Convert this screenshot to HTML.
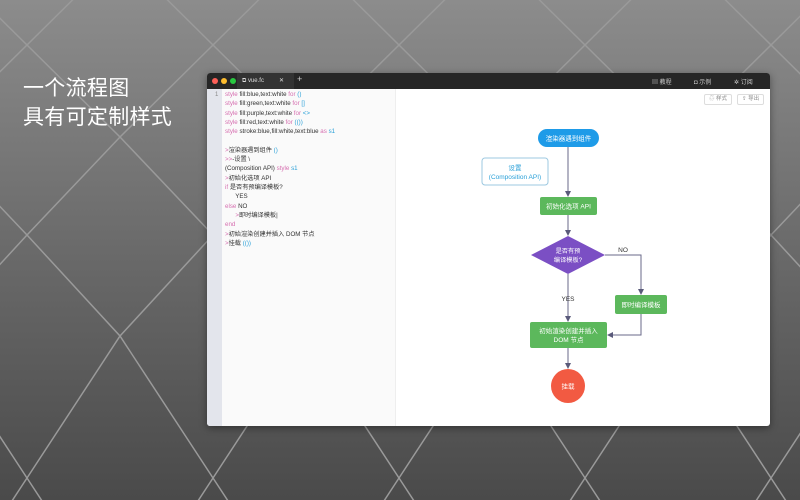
<!DOCTYPE html>
<html><head><meta charset="utf-8"><style>
html,body{margin:0;width:800px;height:500px;overflow:hidden}
body{position:relative;font-family:"Liberation Sans","Noto Sans CJK SC",sans-serif;background:linear-gradient(#8c8c8c,#6a6a6a 50%,#4a4a4a);}
#bg{position:absolute;left:0;top:0}
.h{position:absolute;left:23px;color:#fff;font-size:21px;letter-spacing:0.3px;font-family:"Liberation Sans","Noto Sans CJK SC",sans-serif;}
.win{position:absolute;left:207px;top:73px;width:563px;height:353px;background:#fff;border-radius:3px;overflow:hidden;box-shadow:0 2px 8px rgba(0,0,0,.4)}
.tb{position:absolute;left:0;top:0;width:563px;height:16px;background:#262626}
.dot{position:absolute;top:5px;width:6px;height:6px;border-radius:50%}
.tab{position:absolute;left:30px;top:0;width:52px;height:16px;background:#333;color:#ddd;font-size:6px;line-height:16px;padding-left:5px}
.gut{position:absolute;left:0;top:16px;width:15px;height:337px;background:#e3e5ec}
.code{position:absolute;left:15px;top:16px;width:173px;height:337px;background:#fafafa;border-right:1px solid #eee}
.code div{position:absolute;left:3px;font-size:6.2px;line-height:8px;color:#333;white-space:pre}
.k{color:#d66fb0}.b{color:#2aa0d8}
.tt{position:absolute;color:#ccc;font-size:6px;top:4px}
.btn{position:absolute;top:21px;height:9px;border:1px solid #ddd;font-size:5.5px;color:#888;line-height:9px;padding:0 4px;border-radius:2px}
</style></head><body>
<svg id="bg" width="800" height="500"></svg>
<div class="h" style="top:72px">一个流程图</div>
<div class="h" style="top:101px">具有可定制样式</div>
<div class="win">
<div class="tb">
<div class="dot" style="left:5px;background:#fc5f57"></div>
<div class="dot" style="left:14px;background:#fdbc2e"></div>
<div class="dot" style="left:23px;background:#28c840"></div>
<div class="tab">⧉ vue.fc<span style="position:absolute;left:42px">✕</span></div>
<div class="tt" style="left:90px;font-size:9px;top:1px">+</div>
<div class="tt" style="left:445px">▤ 教程</div>
<div class="tt" style="left:487px">◘ 示例</div>
<div class="tt" style="left:527px">✲ 订阅</div>
</div>
<div class="btn" style="left:497px">♲ 样式</div>
<div class="btn" style="left:530px">⇪ 导出</div>
<div class="gut"><div style="position:absolute;left:8px;top:3px;font-size:6px;color:#888">1</div></div>
<div class="code">
<div style="top:2px"><span class="k">style</span> fill:blue,text:white <span class="k">for</span> <span class="b">()</span></div>
<div style="top:11.3px"><span class="k">style</span> fill:green,text:white <span class="k">for</span> <span class="b">[]</span></div>
<div style="top:20.6px"><span class="k">style</span> fill:purple,text:white <span class="k">for</span> <span class="b">&lt;&gt;</span></div>
<div style="top:29.9px"><span class="k">style</span> fill:red,text:white <span class="k">for</span> <span class="b">(())</span></div>
<div style="top:39.2px"><span class="k">style</span> stroke:blue,fill:white,text:blue <span class="k">as</span> <span class="b">s1</span></div>
<div style="top:57.8px"><span class="k">&gt;</span>渲染器遇到组件 <span class="b">()</span></div>
<div style="top:67.1px"><span class="k">&gt;&gt;</span>-设置 \</div>
<div style="top:76.4px">(Composition API) <span class="k">style</span> <span class="b">s1</span></div>
<div style="top:85.7px"><span class="k">&gt;</span>初始化选项 API</div>
<div style="top:95px"><span class="k">if</span> 是否有预编译模板?</div>
<div style="top:104.3px">      YES</div>
<div style="top:113.6px"><span class="k">else</span> NO</div>
<div style="top:122.9px">      <span class="k">&gt;</span>即时编译模板|</div>
<div style="top:132.2px"><span class="k">end</span></div>
<div style="top:141.5px"><span class="k">&gt;</span>初始渲染创建并插入 DOM 节点</div>
<div style="top:150.8px"><span class="k">&gt;</span>挂载 <span class="b">(())</span></div>
</div>
</div>
<svg width="800" height="500" style="position:absolute;left:0;top:0" font-family="Liberation Sans,Noto Sans CJK SC,sans-serif">
<defs><marker id="a" markerWidth="6" markerHeight="6" refX="5" refY="3" orient="auto"><path d="M0,0L6,3L0,6z" fill="#5a5a7a"/></marker></defs>
<g stroke="#6a6a8a" stroke-width="1" fill="none">
<line x1="568" y1="147" x2="568" y2="196" marker-end="url(#a)"/>
<line x1="568" y1="215" x2="568" y2="235" marker-end="url(#a)"/>
<line x1="568" y1="274" x2="568" y2="321" marker-end="url(#a)"/>
<polyline points="605,255 641,255 641,294" marker-end="url(#a)"/>
<polyline points="641,314 641,335 608,335" marker-end="url(#a)"/>
<line x1="568" y1="348" x2="568" y2="368" marker-end="url(#a)"/>
</g>
<rect x="538" y="129" width="61" height="18" rx="9" fill="#1e9be8"/>
<text x="568.5" y="140.5" font-size="6.5" fill="#fff" text-anchor="middle">渲染器遇到组件</text>
<rect x="482" y="158" width="66" height="27" rx="3" fill="#fff" stroke="#9cc8e0"/>
<text x="515" y="170" font-size="6.5" fill="#2aa0d8" text-anchor="middle">设置</text>
<text x="515" y="179" font-size="6.5" fill="#2aa0d8" text-anchor="middle">(Composition API)</text>
<rect x="540" y="197" width="57" height="18" rx="2" fill="#5cb85c"/>
<text x="568.5" y="208.5" font-size="6.5" fill="#fff" text-anchor="middle">初始化选项 API</text>
<polygon points="568,236 605,255 568,274 531,255" fill="#7b4fc4"/>
<text x="568" y="253" font-size="6.2" fill="#fff" text-anchor="middle">是否有预</text>
<text x="568" y="262" font-size="6.2" fill="#fff" text-anchor="middle">编译模板?</text>
<text x="623" y="252" font-size="6.5" fill="#333" text-anchor="middle">NO</text>
<text x="568" y="301" font-size="6.5" fill="#333" text-anchor="middle">YES</text>
<rect x="615" y="295" width="52" height="19" rx="2" fill="#5cb85c"/>
<text x="641" y="307" font-size="6.5" fill="#fff" text-anchor="middle">即时编译模板</text>
<rect x="530" y="322" width="77" height="26" rx="2" fill="#5cb85c"/>
<text x="568.5" y="333" font-size="6.5" fill="#fff" text-anchor="middle">初始渲染创建并插入</text>
<text x="568.5" y="342" font-size="6.5" fill="#fff" text-anchor="middle">DOM 节点</text>
<circle cx="568" cy="386" r="17" fill="#f25a42"/>
<text x="568" y="388.5" font-size="6.5" fill="#fff" text-anchor="middle">挂载</text>
</svg>
<script>
var ys=[-47,45,137,235,336,478,620],s="";
for(var k=-10;k<14;k++){
 var x0=27+186*k-93,p1="",p2="";
 for(var r=0;r<ys.length;r++){p1+=(x0+93*r)+","+ys[r]+" ";p2+=(x0-93*r+186)+","+ys[r]+" ";}
 s+='<polyline points="'+p1+'" fill="none" stroke="#9a9a9a" stroke-width="1.5"/>';
 s+='<polyline points="'+p2+'" fill="none" stroke="#9a9a9a" stroke-width="1.5"/>';
}
document.getElementById("bg").innerHTML=s;
</script>
</body></html>
